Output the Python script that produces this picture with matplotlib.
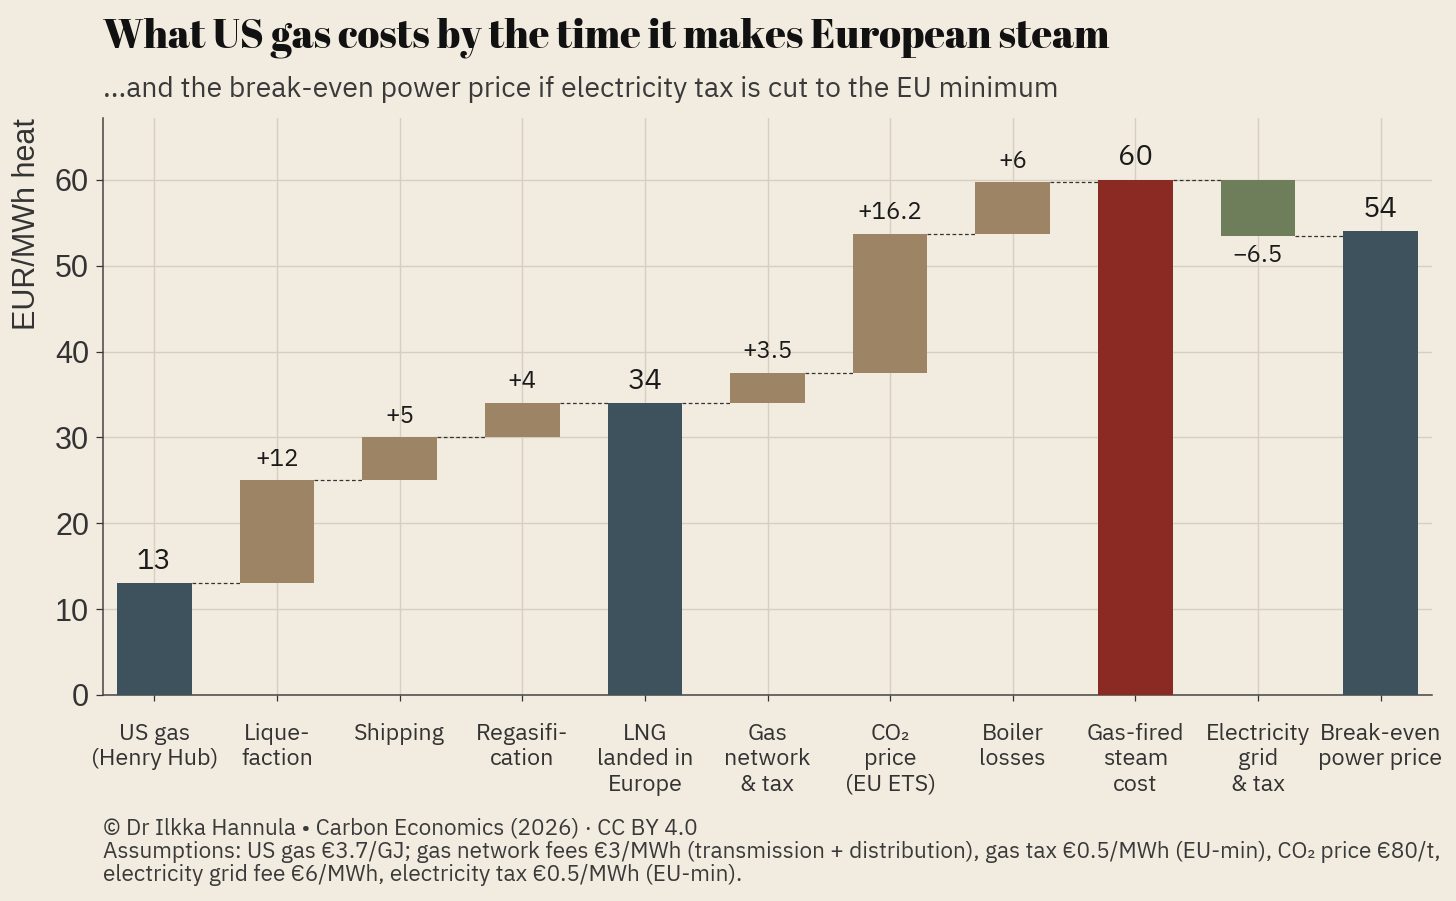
import matplotlib
matplotlib.use("Agg")
import matplotlib.pyplot as plt

# --- data -------------------------------------------------------------
categories = [
    "US gas\n(Henry Hub)", "Lique-\nfaction", "Shipping", "Regasifi-\ncation",
    "LNG\nlanded in\nEurope", "Gas\nnetwork\n& tax", "CO₂\nprice\n(EU ETS)",
    "Boiler\nlosses", "Gas-fired\nsteam\ncost", "Electricity\ngrid\n& tax",
    "Break-even\npower price",
]
# "total" bars stand on zero, "step" bars float on the running total
kinds = ["total", "step", "step", "step", "total", "step", "step", "step",
         "total", "step", "total"]
values = [13, 12, 5, 4, 34, 3.5, 16.2, 6, 60, -6.5, 54]
labels = ["13", "+12", "+5", "+4", "34", "+3.5", "+16.2", "+6", "60",
          "\u22126.5", "54"]
yticks = [0, 10, 20, 30, 40, 50, 60]

BG = "#F2EBDF"
C_TOTAL = "#3D525D"
C_UP = "#9C8465"
C_DOWN = "#6E7D5A"
C_STEAM = "#8B2A22"
TXT = "#333333"
SANS = "IBM Plex Sans"
ARIAL = ["Liberation Sans", "DejaVu Sans"]

plt.rcParams["font.family"] = [SANS, "DejaVu Sans"]

fig = plt.figure(figsize=(14.56, 9.01), dpi=100, facecolor=BG)
ax = fig.add_axes([103 / 1456, 1 - 695 / 901, (1432 - 103) / 1456, (695 - 118) / 901])
ax.set_facecolor(BG)

# running totals
bottoms, tops = [], []
run = 0
for k, v in zip(kinds, values):
    if k == "total":
        b, t = 0, v
        run = v
    else:
        b, t = run, run + v
        run = t
    bottoms.append(min(b, t))
    tops.append(max(b, t))

colors = []
for i, (k, v) in enumerate(zip(kinds, values)):
    if k == "total":
        colors.append(C_STEAM if i == 8 else C_TOTAL)
    else:
        colors.append(C_UP if v > 0 else C_DOWN)

x = list(range(len(categories)))
w = 0.61
heights = [t - b for b, t in zip(bottoms, tops)]
ax.bar(x, heights, bottom=bottoms, width=w, color=colors, zorder=3)

# dashed connectors between bars
ends = []
for k, v, b, t in zip(kinds, values, bottoms, tops):
    ends.append(t if (k == "total" or v > 0) else b)
for i in range(len(x) - 1):
    ax.plot([i + w / 2, i + 1 - w / 2], [ends[i], ends[i]], ls=(0, (3, 2)),
            lw=0.9, color="#333333", zorder=4)

# value labels
for i, (k, v, lab) in enumerate(zip(kinds, values, labels)):
    if k == "total":
        ax.annotate(lab, (i, tops[i]), xytext=(0, 6), textcoords="offset points",
                    ha="center", va="bottom", fontsize=21, color="#1a1a1a")
    elif v > 0:
        ax.annotate(lab, (i, tops[i]), xytext=(0, 7), textcoords="offset points",
                    ha="center", va="bottom", fontsize=17.5, color="#1a1a1a")
    else:
        ax.annotate(lab, (i, bottoms[i]), xytext=(0, -6), textcoords="offset points",
                    ha="center", va="top", fontsize=17.5, color="#1a1a1a")

ax.set_xlim(-0.42, len(x) - 1 + 0.42)
ax.set_ylim(0, 67.2)
ax.set_yticks(yticks)
ax.set_yticklabels([str(t) for t in yticks], family=ARIAL)
ax.set_xticks(x)
ax.set_xticklabels(categories, fontsize=16.8, color=TXT, linespacing=1.2)
ax.tick_params(axis="y", labelsize=22, colors=TXT, length=5, width=0.9, pad=5)
ax.tick_params(axis="x", length=4, width=0.9, pad=16, colors=TXT)
ax.set_ylabel("EUR/MWh heat", fontsize=22, color=TXT, labelpad=9, loc="top",
              family=ARIAL)

ax.grid(True, color="#D6CEC1", lw=1, zorder=0)
ax.set_axisbelow(True)
for s in ["top", "right"]:
    ax.spines[s].set_visible(False)
for s in ["left", "bottom"]:
    ax.spines[s].set_color("#444444")
    ax.spines[s].set_linewidth(1.1)

fig.text(103 / 1456, 1 - 48 / 901, "What US gas costs by the time it makes European steam",
         family="Abril Fatface", fontsize=28.7, color="#111111", va="baseline")
fig.text(103 / 1456, 1 - 97 / 901,
         "...and the break-even power price if electricity tax is cut to the EU minimum",
         fontsize=20.4, color="#3a3a3a", va="baseline")
fig.text(103 / 1456, 1 - 818 / 901,
         "© Dr Ilkka Hannula • Carbon Economics (2026) · CC BY 4.0\n"
         "Assumptions: US gas €3.7/GJ; gas network fees €3/MWh (transmission + distribution), "
         "gas tax €0.5/MWh (EU-min), CO₂ price €80/t,\n"
         "electricity grid fee €6/MWh, electricity tax €0.5/MWh (EU-min).",
         fontsize=16.3, color="#3a3a3a", va="top", linespacing=1.07)

fig.savefig("out.png", facecolor=BG)
